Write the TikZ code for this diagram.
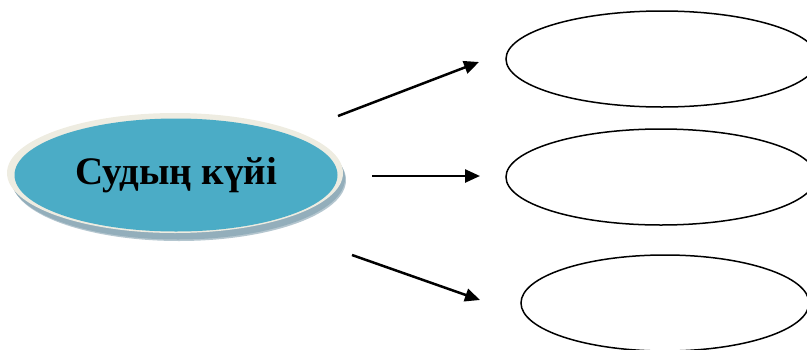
\documentclass[tikz,border=0pt]{standalone}
\usepackage{fontspec}
\setmainfont{Liberation Serif}
\usetikzlibrary{shapes.geometric,arrows.meta}
\definecolor{teal1}{HTML}{4BACC6}
\definecolor{cream}{HTML}{EEECE1}
\definecolor{shade1}{HTML}{93AEBB}
\begin{document}
\begin{tikzpicture}[x=1pt,y=-1pt,
  emptyell/.style={draw=black,line width=1.5pt,fill=none},
  arr/.style={line width=2.5pt,-{Triangle[length=15pt,width=13pt]}}]
\useasboundingbox (0,0) rectangle (807,349);
% shadow of main ellipse
\fill[shade1!70] (179,180) ellipse [x radius=167, y radius=61];
\fill[shade1] (178,178.5) ellipse [x radius=167, y radius=61];
% cream rim
\node[ellipse,fill=cream,minimum width=336pt,minimum height=120pt,inner sep=0pt] (rim) at (175,173) {};
% main ellipse
\node[ellipse,fill=teal1,minimum width=323pt,minimum height=113pt,inner sep=0pt,font=\bfseries\fontsize{39}{39}\selectfont] (main) at (176,175) {Судың күйі};
% right ellipses
\node[ellipse,emptyell,minimum width=312pt,minimum height=96pt] (e1) at (662,59) {};
\node[ellipse,emptyell,minimum width=310pt,minimum height=96pt] (e2) at (661,177) {};
\node[ellipse,emptyell,minimum width=288pt,minimum height=96pt] (e3) at (665,303) {};
% arrows
\coordinate (a1s) at (338,116); \coordinate (a1e) at (479,62);
\coordinate (a2s) at (372,176); \coordinate (a2e) at (480,176);
\coordinate (a3s) at (352,255); \coordinate (a3e) at (480,300);
\draw[arr] (a1s) -- (a1e);
\draw[arr] (a2s) -- (a2e);
\draw[arr] (a3s) -- (a3e);
\end{tikzpicture}
\end{document}
